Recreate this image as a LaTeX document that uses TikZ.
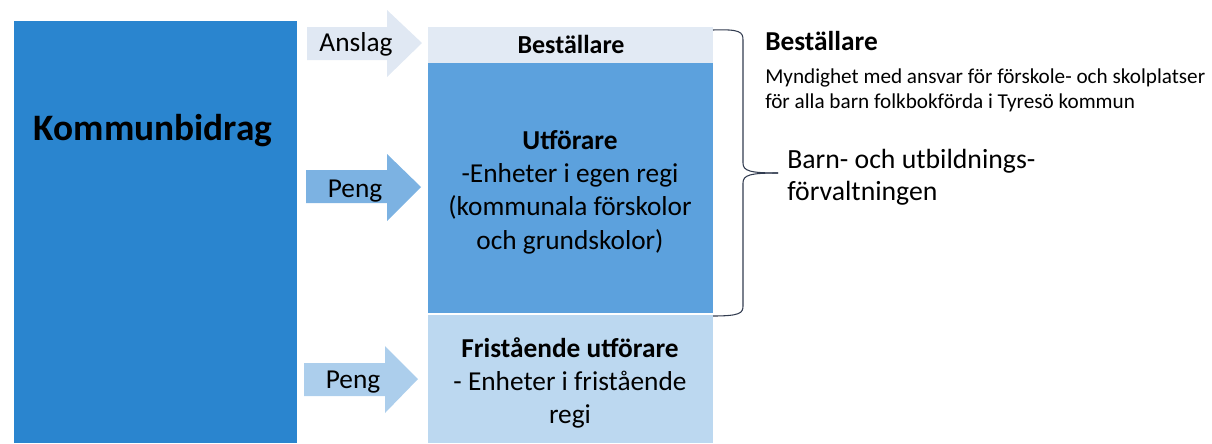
\documentclass[tikz,border=0pt]{standalone}
\usepackage{fontspec}
\setmainfont{Carlito}
\definecolor{kbblue}{RGB}{42,133,207}
\definecolor{utblue}{RGB}{92,161,221}
\definecolor{frblue}{RGB}{188,216,240}
\definecolor{beblue}{RGB}{226,234,244}
\definecolor{anslagc}{RGB}{224,232,243}
\definecolor{peng1c}{RGB}{124,178,226}
\definecolor{peng2c}{RGB}{172,206,236}
\definecolor{bracec}{RGB}{50,60,80}
\tikzset{
  arrowtxt/.style={font=\fontsize{20.5}{24}\selectfont, inner sep=0pt},
  coltxt/.style={align=center, font=\fontsize{20.5}{25}\selectfont, inner sep=0pt},
  bracestyle/.style={draw=bracec, line width=0.8pt},
}
\begin{document}
\begin{tikzpicture}[x=0.75pt,y=-0.75pt]
\useasboundingbox (0,0) rectangle (1212,443);
% Kommunbidrag
\fill[kbblue] (14,21) rectangle (297,443);
\node[font=\fontsize{28}{32}\selectfont\bfseries, inner sep=0pt, anchor=base] (kb) at (153,140) {Kommunbidrag};
% column boxes
\fill[beblue] (428,27) rectangle (713,63);
\fill[utblue] (428,63) rectangle (713,313);
\fill[frblue] (428,315) rectangle (713,443);
\node[inner sep=0pt, anchor=base, font=\fontsize{19.5}{24}\selectfont\bfseries] (best) at (571,53) {Beställare};
\node[coltxt] (utf) at (570,192) {\textbf{Utförare}\\-Enheter i egen regi\\(kommunala förskolor\\och grundskolor)};
\node[coltxt] (fri) at (570,383) {\textbf{Fristående utförare}\\- Enheter i fristående\\regi};
% arrows
\fill[anslagc] (307,27) -- (387,27) -- (387,10) -- (422,43) -- (387,77) -- (387,60) -- (307,60) -- cycle;
\fill[peng1c] (306,170) -- (387,170) -- (387,154) -- (421,187) -- (387,221) -- (387,203) -- (306,203) -- cycle;
\fill[peng2c] (304,363) -- (385,363) -- (385,346) -- (418,379) -- (385,413) -- (385,396) -- (304,396) -- cycle;
\node[arrowtxt, anchor=base] (ansl) at (356,51) {Anslag};
\node[arrowtxt, anchor=base] (peng1) at (355,197) {Peng};
\node[arrowtxt, anchor=base] (peng2) at (353,388) {Peng};
% brace
\coordinate (btop) at (713,30);
\coordinate (bbot) at (713,316);
\coordinate (btip) at (778,173);
\draw[bracestyle] (btop) .. controls (740,29) and (743,32) .. (743,40) -- (743,163) .. controls (743,171) and (750,173) .. (btip);
\draw[bracestyle] (btip) .. controls (750,173) and (743,175) .. (743,183) -- (743,306) .. controls (743,313) and (740,316) .. (bbot);
% right texts
\node[anchor=base west, inner sep=0pt, font=\fontsize{20.5}{24}\selectfont\bfseries] (rbest) at (765,50) {Beställare};
\node[anchor=base west, inner sep=0pt, font=\fontsize{15.9}{19}\selectfont] (myn) at (765,83) {Myndighet med ansvar för förskole- och skolplatser};
\node[anchor=base west, inner sep=0pt, font=\fontsize{15.9}{19}\selectfont] (myn2) at (765,108) {för alla barn folkbokförda i Tyresö kommun};
\node[anchor=base west, inner sep=0pt, font=\fontsize{20.8}{24}\selectfont] (barn) at (787,168) {Barn- och utbildnings-};
\node[anchor=base west, inner sep=0pt, font=\fontsize{20.8}{24}\selectfont] (barn2) at (787,200) {förvaltningen};
\end{tikzpicture}
\end{document}
